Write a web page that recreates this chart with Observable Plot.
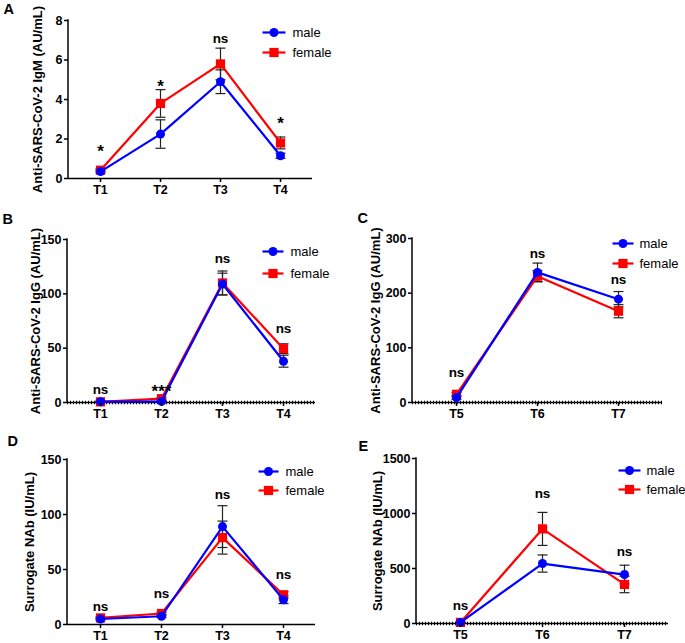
<!DOCTYPE html>
<html><head><meta charset="utf-8">
<script src="https://cdn.jsdelivr.net/npm/d3@7"></script>
<script src="https://cdn.jsdelivr.net/npm/@observablehq/plot@0.6"></script>
<style>
body{margin:0;background:#fff;}
#fig{position:relative;width:685px;height:643px;overflow:hidden;background:#fff;}
#fig svg{position:absolute;overflow:visible;}
</style></head><body><div id="fig"></div>
<script>
// ---------- data ----------
const seriesNames = ["male", "female"];
const seriesColors = ["#0000ff", "#ff0000"];

// Panel A – IgM
const timesA = ["T1", "T2", "T3", "T4"];
const maleA = [0.35, 2.25, 4.9, 1.15];
const maleErrA = [0.07, 0.72, 0.6, 0.13];
const femaleA = [0.42, 3.8, 5.8, 1.8];
const femaleErrA = [0.07, 0.7, 0.8, 0.3];
const sigA = ["*", "*", "ns", "*"];
const sigYA = [1.57, 4.9, 7.1, 3.0];
const ticksA = [0, 2, 4, 6, 8];

// Panel B – IgG T1–T4
const timesB = ["T1", "T2", "T3", "T4"];
const maleB = [0.8, 1.0, 109, 38];
const maleErrB = [0.5, 0.5, 10, 5.5];
const femaleB = [0.6, 3.5, 110, 49.5];
const femaleErrB = [0.5, 1, 11, 4.5];
const sigB = ["ns", "***", "ns", "ns"];
const sigYB = [12, 14, 132.5, 68];
const ticksB = [0, 50, 100, 150];

// Panel C – IgG T5–T7
const timesC = ["T5", "T6", "T7"];
const maleC = [9, 238, 189];
const maleErrC = [3, 17, 14];
const femaleC = [15, 231, 167];
const femaleErrC = [3, 10, 12];
const sigC = ["ns", "ns", "ns"];
const sigYC = [55, 272, 225];
const ticksC = [0, 100, 200, 300];

// Panel D – NAb T1–T4
const timesD = ["T1", "T2", "T3", "T4"];
const maleD = [5, 7.5, 89, 22.5];
const maleErrD = [0.8, 1, 19, 3.5];
const femaleD = [6, 10, 79, 27];
const femaleErrD = [0.8, 1.2, 15, 3];
const sigD = ["ns", "ns", "ns", "ns"];
const sigYD = [16.4, 28, 118, 45.5];
const ticksD = [0, 50, 100, 150];

// Panel E – NAb T5–T7
const timesE = ["T5", "T6", "T7"];
const maleE = [10, 545, 445];
const maleErrE = [3, 78, 85];
const femaleE = [10, 860, 355];
const femaleErrE = [3, 150, 75];
const sigE = ["ns", "ns", "ns"];
const sigYE = [166, 1183, 649];
const ticksE = [0, 500, 1000, 1500];

const titleIgM = "Anti-SARS-CoV-2 IgM (AU/mL)";
const titleIgG = "Anti-SARS-CoV-2 IgG (AU/mL)";
const titleNAb = "Surrogate NAb (IU/mL)";

// ---------- drawing ----------
const FONT = "'Liberation Sans', Arial, Helvetica, sans-serif";
function hline(w) { return {draw(ctx) { ctx.moveTo(-w, 0); ctx.lineTo(w, 0); }}; }

function panel(cfg) {
  const {times, male, maleErr, female, femaleErr, sig, sigY, ticks, title, letter, box, m, pad, legend, titleX, letterPos, dotted} = cfg;
  const series = [
    {name: seriesNames[0], color: seriesColors[0], vals: male, errs: maleErr, symbol: "circle", r: 4.5},
    {name: seriesNames[1], color: seriesColors[1], vals: female, errs: femaleErr, symbol: "square", r: 5.2}
  ];
  const rows = series.map(s => times.map((t, i) => ({time: t, value: s.vals[i], lo: s.vals[i] - s.errs[i], hi: s.vals[i] + s.errs[i]})));
  const sigRows = times.map((t, i) => ({time: t, label: sig[i], y: sigY[i]}));
  const ymax = ticks[ticks.length - 1];
  const marks = [];
  for (const k of [1, 0]) {
    marks.push(Plot.ruleX(rows[k], {x: "time", y1: "lo", y2: "hi", stroke: "#222", strokeWidth: 1.2}));
    marks.push(Plot.dot(rows[k], {x: "time", y: "hi", symbol: hline(5), stroke: "#222", strokeWidth: 1.2}));
    marks.push(Plot.dot(rows[k], {x: "time", y: "lo", symbol: hline(5), stroke: "#222", strokeWidth: 1.2}));
  }
  marks.push(Plot.ruleY([0], {stroke: "#000", strokeWidth: 1.5}));
  if (dotted) marks.push(Plot.ruleY([0], {stroke: "#000", strokeWidth: 3.5, strokeDasharray: "1,2"}));
  for (const k of [1, 0]) {
    const s = series[k];
    marks.push(Plot.line(rows[k], {x: "time", y: "value", stroke: s.color, strokeWidth: 2.2}));
    marks.push(Plot.dot(rows[k], {x: "time", y: "value", symbol: s.symbol, r: s.r, fill: s.color, stroke: null}));
  }
  marks.push(Plot.text(sigRows, {filter: d => d.label === "ns", x: "time", y: "y", text: "label", fontSize: 13.5, fontWeight: "bold", fill: "#000"}));
  marks.push(Plot.text(sigRows, {filter: d => d.label !== "ns", x: "time", y: "y", text: "label", fontSize: 17, fontWeight: "bold", fill: "#000", dy: 4.5}));
  marks.push(Plot.axisX({tickSize: 4, tickPadding: 3, strokeWidth: 1.5, label: null, fontSize: 12.5, fontWeight: "bold"}));
  marks.push(Plot.axisY({ticks, tickSize: 4, tickPadding: 2, strokeWidth: 1.5, label: null, tickFormat: d3.format("d"), fontSize: 12.5, fontWeight: "bold"}));
  marks.push(Plot.text([title], {x: null, y: null, text: d => d, frameAnchor: "left", textAnchor: "middle", lineAnchor: "middle", rotate: -90, dx: titleX - m.left, fontSize: 13, fontWeight: "bold", fill: "#000"}));
  marks.push(Plot.text([letter], {x: null, y: null, text: d => d, frameAnchor: "top-left", dx: letterPos[0] - m.left, dy: letterPos[1] - m.top, textAnchor: "start", lineAnchor: "top", fontSize: 14.5, fontWeight: "bold", fill: "#000"}));
  series.forEach((s, k) => {
    const dy = legend.y[k] - m.top;
    const cx = (legend.x1 + legend.x2) / 2 - m.left;
    const half = (legend.x2 - legend.x1) / 2;
    marks.push(Plot.dot([0], {x: null, y: null, frameAnchor: "top-left", dx: cx, dy, symbol: hline(half), stroke: s.color, strokeWidth: 2.2}));
    marks.push(Plot.dot([0], {x: null, y: null, frameAnchor: "top-left", dx: cx, dy, symbol: s.symbol, r: s.r, fill: s.color, stroke: null}));
    marks.push(Plot.text([s.name], {x: null, y: null, text: d => d, frameAnchor: "top-left", dx: legend.tx - m.left, dy, textAnchor: "start", lineAnchor: "middle", fontSize: 13, fontWeight: "normal", fill: "#000"}));
  });

  const svg = Plot.plot({
    width: box.w, height: box.h,
    marginTop: m.top, marginRight: m.right, marginBottom: m.bottom, marginLeft: m.left,
    style: {fontFamily: FONT, fontSize: "12px", fontWeight: "bold", color: "#000", background: "transparent", overflow: "visible"},
    x: {type: "point", domain: times, padding: pad, label: null},
    y: {domain: [0, ymax], label: null},
    marks
  });
  d3.select(svg).append("line")
    .attr("x1", m.left).attr("x2", m.left)
    .attr("y1", m.top - 0.75).attr("y2", box.h - m.bottom + 0.75)
    .attr("stroke", "#000").attr("stroke-width", 1.5);
  svg.style.left = box.x + "px";
  svg.style.top = box.y + "px";
  document.getElementById("fig").appendChild(svg);
}

panel({times: timesA, male: maleA, maleErr: maleErrA, female: femaleA, femaleErr: femaleErrA, sig: sigA, sigY: sigYA, ticks: ticksA,
  title: titleIgM, letter: "A", box: {x: 0, y: 0, w: 340, h: 200}, m: {top: 20, right: 28, bottom: 22, left: 68}, pad: 0.52,
  legend: {x1: 262, x2: 285, tx: 292, y: [32, 52]}, titleX: 37, letterPos: [3, 3], dotted: false});
panel({times: timesB, male: maleB, maleErr: maleErrB, female: femaleB, femaleErr: femaleErrB, sig: sigB, sigY: sigYB, ticks: ticksB,
  title: titleIgG, letter: "B", box: {x: 0, y: 200, w: 340, h: 220}, m: {top: 39, right: 25, bottom: 18, left: 67}, pad: 0.53,
  legend: {x1: 262, x2: 283, tx: 290, y: [51, 73]}, titleX: 35, letterPos: [2, 13], dotted: true});
panel({times: timesC, male: maleC, maleErr: maleErrC, female: femaleC, femaleErr: femaleErrC, sig: sigC, sigY: sigYC, ticks: ticksC,
  title: titleIgG, letter: "C", box: {x: 340, y: 200, w: 345, h: 220}, m: {top: 38, right: 23, bottom: 18, left: 72}, pad: 0.53,
  legend: {x1: 272, x2: 293, tx: 299, y: [43, 63]}, titleX: 35, letterPos: [17, 12], dotted: true});
panel({times: timesD, male: maleD, maleErr: maleErrD, female: femaleD, femaleErr: femaleErrD, sig: sigD, sigY: sigYD, ticks: ticksD,
  title: titleNAb, letter: "D", box: {x: 0, y: 420, w: 340, h: 223}, m: {top: 39, right: 25, bottom: 19, left: 67}, pad: 0.53,
  legend: {x1: 258, x2: 278, tx: 285, y: [51, 70]}, titleX: 29, letterPos: [7, 15], dotted: false});
panel({times: timesE, male: maleE, maleErr: maleErrE, female: femaleE, femaleErr: femaleErrE, sig: sigE, sigY: sigYE, ticks: ticksE,
  title: titleNAb, letter: "E", box: {x: 340, y: 420, w: 345, h: 223}, m: {top: 38, right: 17, bottom: 20, left: 76}, pad: 0.53,
  legend: {x1: 278, x2: 300, tx: 306, y: [50, 69]}, titleX: 37, letterPos: [18, 20], dotted: true});
</script>
</body></html>
